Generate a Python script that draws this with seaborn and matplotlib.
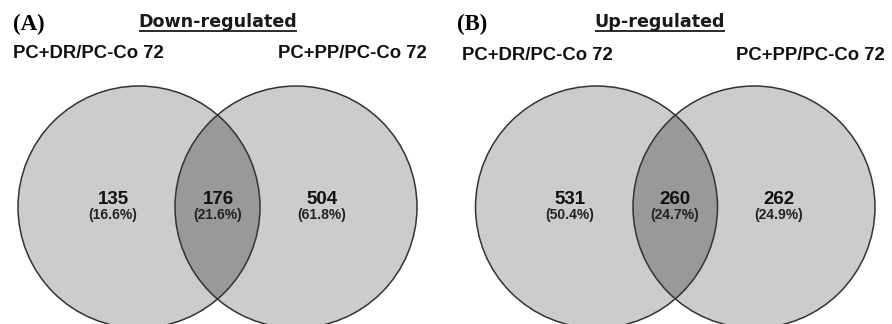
import numpy as np
import matplotlib
matplotlib.use("Agg")
from matplotlib import pyplot as plt
from matplotlib.patches import Circle
import seaborn as sns

sns.set_theme(style="white")
plt.rcParams['font.family'] = ['Liberation Sans', 'DejaVu Sans']

# values
panel_tags = ["(A)", "(B)"]
panel_titles = ["Down-regulated", "Up-regulated"]
set_labels = ["PC+DR/PC-Co 72", "PC+PP/PC-Co 72"]
down_counts = [135, 176, 504]
down_pcts = ["16.6%", "21.6%", "61.8%"]
up_counts = [531, 260, 262]
up_pcts = ["50.4%", "24.7%", "24.9%"]

# layout (pixel coords of the 892x324 canvas)
panels = [
    {"tag_x": 13, "title_x": 218, "label_x": (13, 427), "label_y": 53,
     "centers": (139, 296), "r": 121, "cy": 207,
     "counts": down_counts, "pcts": down_pcts, "text_x": (113, 218, 322)},
    {"tag_x": 457, "title_x": 660, "label_x": (462, 885), "label_y": 56,
     "centers": (596.5, 754), "r": 121, "cy": 207,
     "counts": up_counts, "pcts": up_pcts, "text_x": (570, 675, 779)},
]

light = "#cccccc"
dark = "#999999"
edge = "#333333"

fig = plt.figure(figsize=(8.92, 3.24), dpi=100)
ax = fig.add_axes([0, 0, 1, 1])
ax.set_xlim(0, 892)
ax.set_ylim(324, 0)
ax.set_aspect("equal")
ax.axis("off")

title_texts = []
for i, p in enumerate(panels):
    cx1, cx2 = p["centers"]
    c1 = Circle((cx1, p["cy"]), p["r"], facecolor=light, edgecolor="none", zorder=1)
    c2 = Circle((cx2, p["cy"]), p["r"], facecolor=light, edgecolor="none", zorder=1)
    ax.add_patch(c1)
    ax.add_patch(c2)
    # overlap region: second circle clipped to the first
    lens = Circle((cx2, p["cy"]), p["r"], facecolor=dark, edgecolor="none", zorder=2)
    ax.add_patch(lens)
    lens.set_clip_path(c1)
    for cx in (cx1, cx2):
        ax.add_patch(Circle((cx, p["cy"]), p["r"], fill=False, edgecolor=edge,
                            linewidth=1.1, zorder=3))

    ax.text(p["tag_x"], 24, panel_tags[i], family=["Liberation Serif"], fontweight="bold",
            fontsize=16.5, ha="left", va="center", color="#000000")
    t = ax.text(p["title_x"], 22, panel_titles[i], family=["DejaVu Sans"], fontweight="bold",
                fontsize=12.6, ha="center", va="center", color="#1a1a1a")
    title_texts.append(t)

    ax.text(p["label_x"][0], p["label_y"], set_labels[0], fontweight="bold", fontsize=13.3,
            ha="left", va="center", color="#111111")
    ax.text(p["label_x"][1], p["label_y"], set_labels[1], fontweight="bold", fontsize=13.3,
            ha="right", va="center", color="#111111")

    for x, n, pc in zip(p["text_x"], p["counts"], p["pcts"]):
        ax.text(x, 199, str(n), fontweight="bold", fontsize=13.5, ha="center", va="center",
                color="#111111", zorder=4)
        ax.text(x, 215, f"({pc})", fontweight="bold", fontsize=10, ha="center", va="center",
                color="#222222", zorder=4)

# underline the titles
fig.canvas.draw()
inv = ax.transData.inverted()
for t in title_texts:
    bb = t.get_window_extent()
    (x0, y0), (x1, y1) = inv.transform([[bb.x0, bb.y0], [bb.x1, bb.y1]])
    ax.plot([x0, x1], [31, 31], color="#1a1a1a", linewidth=1.3, solid_capstyle="butt")

fig.savefig("out.png", dpi=100)
plt.close("all")
